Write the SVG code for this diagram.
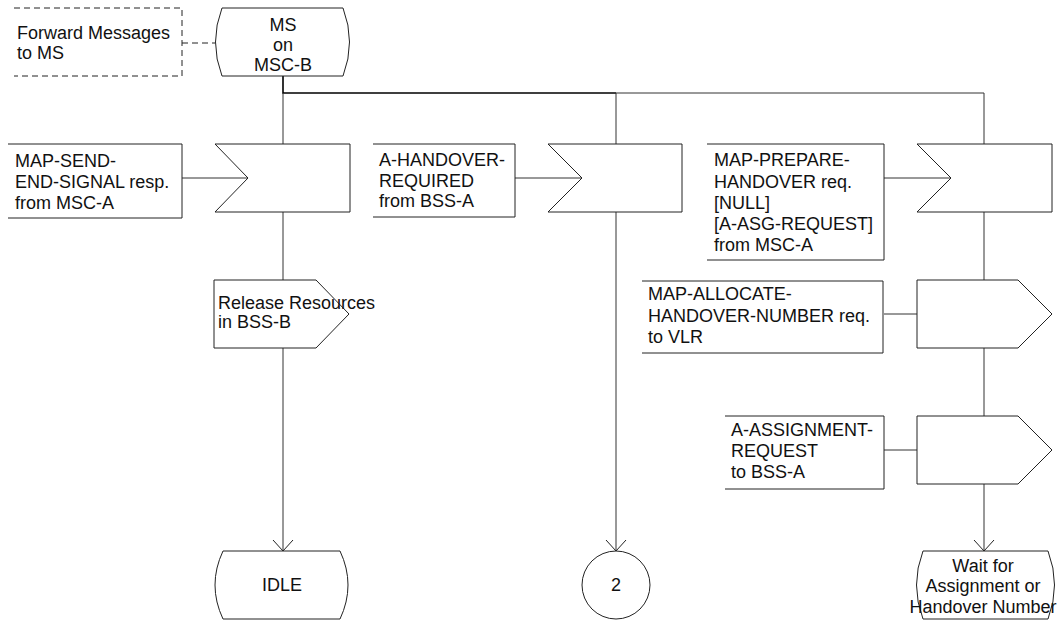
<svg xmlns="http://www.w3.org/2000/svg" width="1063" height="621" viewBox="0 0 1063 621">
<style>
.s{fill:#fff;stroke:#222;stroke-width:1}
.b{fill:none;stroke:#222;stroke-width:1}
.c{fill:none;stroke:#333;stroke-width:1}
.d{fill:none;stroke:#222;stroke-width:1;stroke-dasharray:6 4}
text{font-family:"Liberation Sans",Arial,sans-serif;font-size:18px;fill:#111}
.m{text-anchor:middle}
</style>
<defs>
<marker id="arr" markerUnits="userSpaceOnUse" markerWidth="22" markerHeight="14" refX="11" refY="1" orient="0" viewBox="0 0 22 14" overflow="visible">
<path d="M1,-10 L11,1 L21,-10" fill="none" stroke="#222" stroke-width="1"/>
</marker>
</defs>
<rect width="1063" height="621" fill="#fff"/>
<g id="connectors">
<path d="M283,76 V93 H616" fill="none" stroke="#000" stroke-width="1.6"/>
<path class="c" d="M616,93 H984 V144"/>
<path class="c" d="M283,93 V144"/>
<path class="c" d="M616,93 V144"/>
<path class="c" d="M283,212 V280"/>
<path class="c" d="M283,348 V551" marker-end="url(#arr)"/>
<path class="c" d="M616,212 V551" marker-end="url(#arr)"/>
<path class="c" d="M984,212 V280"/>
<path class="c" d="M984,348 V416"/>
<path class="c" d="M984,484 V551" marker-end="url(#arr)"/>
<path class="c" d="M182,178 H248"/>
<path class="c" d="M515,178 H582"/>
<path class="c" d="M884,178 H951"/>
<path class="c" d="M884,314 H917"/>
<path class="c" d="M884,450 H917"/>
<path class="d" d="M182,43 H215"/>
</g>
<g id="comment-forward">
<path class="d" d="M14,8 H182 V76 H14"/>
<text x="17" y="39">Forward Messages</text>
<text x="17" y="59">to MS</text>
</g>
<g id="state-ms">
<path class="s" d="M222,8 H343 Q356,42 343,76 H222 Q209,42 222,8 Z"/>
<text class="m" x="283" y="31">MS</text>
<text class="m" x="283" y="51">on</text>
<text class="m" x="283" y="71">MSC-B</text>
</g>
<g id="label-send-end-signal">
<path class="b" d="M8,144 H182 V218 H8"/>
<text x="15" y="167">MAP-SEND-</text>
<text x="15" y="188">END-SIGNAL resp.</text>
<text x="15" y="209">from MSC-A</text>
</g>
<g id="input-send-end-signal">
<path class="s" d="M215,144 H350 V212 H215 L248,178 Z"/>
</g>
<g id="label-handover-required">
<path class="b" d="M373,144 H515 V217 H373"/>
<text x="379" y="166">A-HANDOVER-</text>
<text x="379" y="187">REQUIRED</text>
<text x="379" y="207">from BSS-A</text>
</g>
<g id="input-handover-required">
<path class="s" d="M548,144 H682 V212 H548 L582,178 Z"/>
</g>
<g id="label-prepare-handover">
<path class="b" d="M707,144 H884 V260 H707"/>
<text x="714" y="166">MAP-PREPARE-</text>
<text x="714" y="188">HANDOVER req.</text>
<text x="714" y="209">[NULL]</text>
<text x="714" y="230">[A-ASG-REQUEST]</text>
<text x="714" y="251">from MSC-A</text>
</g>
<g id="input-prepare-handover">
<path class="s" d="M917,144 H1052 V212 H917 L951,178 Z"/>
</g>
<g id="output-release">
<path class="s" d="M214,280 H316 L349,314 L316,348 H214 Z"/>
<text x="218" y="309">Release Resources</text>
<text x="218" y="328">in BSS-B</text>
</g>
<g id="label-allocate">
<path class="b" d="M642,281 H883 V353 H642"/>
<text x="648" y="300">MAP-ALLOCATE-</text>
<text x="648" y="322">HANDOVER-NUMBER req.</text>
<text x="648" y="343">to VLR</text>
</g>
<g id="output-allocate">
<path class="s" d="M917,280 H1018 L1052,314 L1018,348 H917 Z"/>
</g>
<g id="label-assignment">
<path class="b" d="M725,416 H884 V489 H725"/>
<text x="731" y="436">A-ASSIGNMENT-</text>
<text x="731" y="457">REQUEST</text>
<text x="731" y="478">to BSS-A</text>
</g>
<g id="output-assignment">
<path class="s" d="M917,416 H1018 L1052,450 L1018,484 H917 Z"/>
</g>
<g id="state-idle">
<path class="s" d="M223,551 H340 Q356,585 340,619 H223 Q207,585 223,551 Z"/>
<text class="m" x="282" y="591">IDLE</text>
</g>
<g id="connector-2">
<circle class="s" cx="616" cy="585" r="34"/>
<text class="m" x="616" y="591">2</text>
</g>
<g id="state-wait">
<path class="s" d="M923,551 H1048 Q1061,585 1048,619 H923 Q910,585 923,551 Z"/>
<text class="m" x="983" y="572">Wait for</text>
<text class="m" x="983" y="592">Assignment or</text>
<text class="m" x="983" y="613">Handover Number</text>
</g>
</svg>
